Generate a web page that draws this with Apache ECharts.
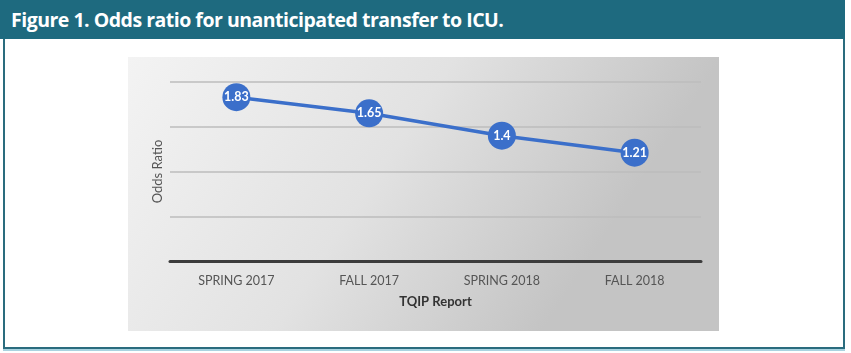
<!DOCTYPE html>
<html>
<head>
<meta charset="utf-8">
<script src="https://cdn.jsdelivr.net/npm/echarts@6/dist/echarts.min.js"></script>
<style>
  html, body { margin: 0; padding: 0; background: #fff; width: 851px; height: 353px; overflow: hidden; }
  .fig-header {
    position: absolute; left: 0; top: 0; width: 845px; height: 39px;
    background: #1e6a7f; color: #fff;
    font-family: "Open Sans", sans-serif; font-weight: 700; font-size: 19.5px;
    line-height: 39px; padding-left: 11px; box-sizing: border-box; letter-spacing: -0.5px;
  }
  .fig-frame {
    position: absolute; left: 3px; top: 39px; width: 842px; height: 310px;
    border: 2px solid #2a6c7e; border-top: none; box-sizing: border-box;
    box-shadow: 0 2px 0 #a9d3e0;
  }
  #chart { position: absolute; left: 128px; top: 57px; width: 591px; height: 274px; }
</style>
</head>
<body>
<div class="fig-header">Figure 1. Odds ratio for unanticipated transfer to ICU.</div>
<div class="fig-frame"></div>
<div id="chart"></div>
<script>
const categories = ['SPRING 2017', 'FALL 2017', 'SPRING 2018', 'FALL 2018']
const oddsRatio = [1.83, 1.65, 1.4, 1.21]

const chart = echarts.init(document.getElementById('chart'))

const option = {
  animation: false,
  backgroundColor: new echarts.graphic.LinearGradient(0, 0, 0.7, 1, [
    { offset: 0, color: '#f3f3f3' },
    { offset: 0.55, color: '#e2e2e2' },
    { offset: 1, color: '#c4c4c4' }
  ]),
  grid: { left: 42, right: 18, top: 25, bottom: 70 },
  xAxis: {
    type: 'category',
    data: categories,
    name: 'TQIP Report',
    nameLocation: 'middle',
    nameGap: 34,
    nameTextStyle: { fontFamily: 'Lato', fontWeight: 'bold', fontSize: 13, color: '#333' },
    axisLine: { lineStyle: { color: '#3c3c3c', width: 3 } },
    axisTick: { show: false },
    axisLabel: { fontFamily: 'Lato', fontSize: 12.5, color: '#555', margin: 13 }
  },
  yAxis: {
    type: 'value',
    min: 0,
    max: 2,
    interval: 0.5,
    name: 'Odds Ratio',
    nameLocation: 'middle',
    nameGap: 6,
    nameTextStyle: { fontFamily: 'Lato', fontSize: 13, color: '#555' },
    axisLabel: { show: false },
    axisLine: { show: false },
    axisTick: { show: false },
    splitLine: { lineStyle: { color: '#bdbdbd', width: 1.5 } }
  },
  series: [{
    type: 'line',
    data: oddsRatio,
    symbol: 'circle',
    symbolSize: 28,
    lineStyle: { color: '#3b6fca', width: 3.5 },
    itemStyle: { color: '#3b6fca' },
    label: {
      show: true,
      position: 'inside',
      color: '#fff',
      fontFamily: 'Lato',
      fontWeight: 'bold',
      fontSize: 12.5
    }
  }]
}

chart.setOption(option)
</script>
</body>
</html>
